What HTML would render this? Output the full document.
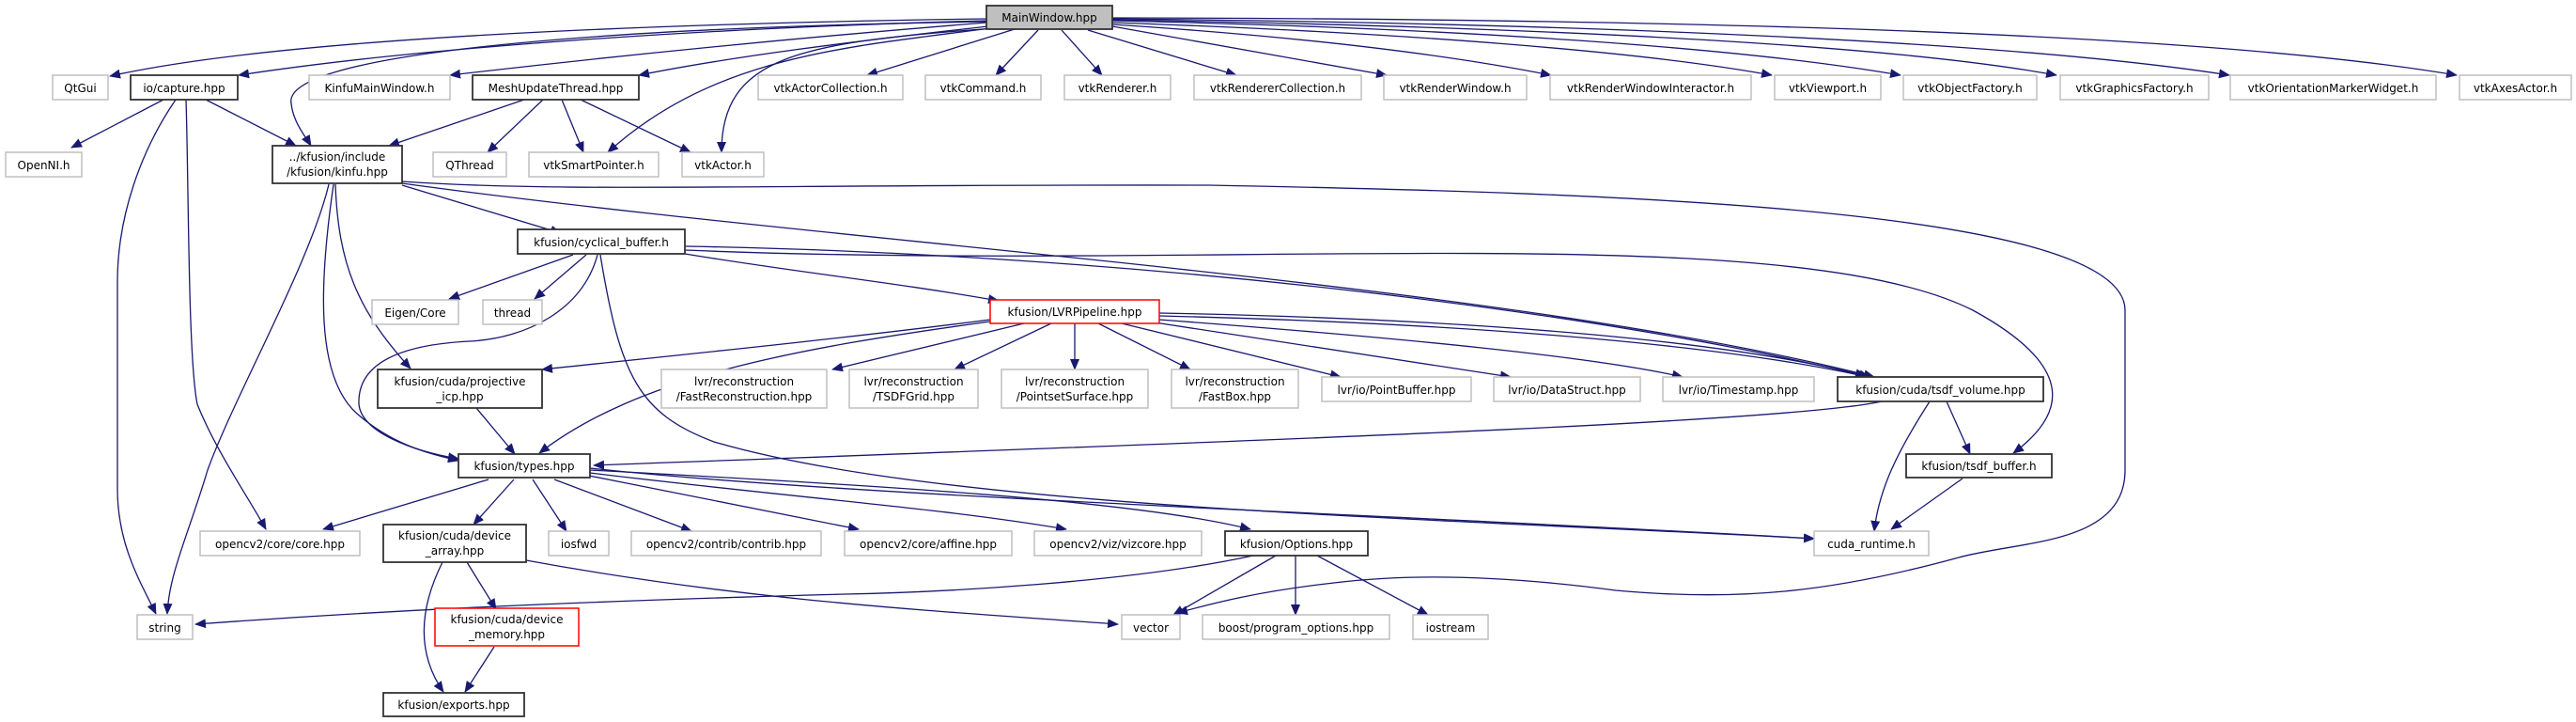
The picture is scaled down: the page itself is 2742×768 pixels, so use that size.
<!DOCTYPE html>
<html><head><meta charset="utf-8"><style>
html,body{margin:0;padding:0;background:#fff;}
svg{display:block;}
text{font-family:"DejaVu Sans","Liberation Sans",sans-serif;font-size:12px;fill:#000;text-anchor:middle;}
.g rect{fill:#fff;stroke:#bfbfbf;stroke-width:1.5;}
.b rect{fill:#fff;stroke:#333;stroke-width:1.8;}
.r rect{fill:#fff;stroke:#ff0000;stroke-width:1.5;}
.m rect{fill:#bfbfbf;stroke:#333;stroke-width:1.8;}
path.e{fill:none;stroke:#191970;stroke-width:1.3;marker-end:url(#a);}
</style></head><body>
<svg width="2742" height="768" viewBox="0 0 2742 768" xmlns="http://www.w3.org/2000/svg">
<defs><marker id="a" markerWidth="12" markerHeight="10" refX="11" refY="5" orient="auto" markerUnits="userSpaceOnUse"><path d="M0,0 L12,5 L0,10 z" fill="#191970"/></marker></defs>

<path class="e" d="M1050,20 C700,25 300,40 117,81"/>
<path class="e" d="M1050,22 C750,30 450,50 254,80"/>
<path class="e" d="M1050,23 C600,30 300,60 310,110 C312,130 325,145 331,155"/>
<path class="e" d="M1050,24 C850,40 650,60 479,80"/>
<path class="e" d="M1052,28 C900,45 780,60 680,80"/>
<path class="e" d="M1055,30 C900,50 760,60 647,162"/>
<path class="e" d="M1060,30 C850,45 768,60 768,162"/>
<path class="e" d="M1080,31 L923,80"/>
<path class="e" d="M1105,32 L1060,80"/>
<path class="e" d="M1130,32 L1173,80"/>
<path class="e" d="M1158,32 L1316,80"/>
<path class="e" d="M1184,28 L1476,80"/>
<path class="e" d="M1184,26 C1400,40 1550,60 1651,80"/>
<path class="e" d="M1184,24 C1500,35 1750,55 1886,80"/>
<path class="e" d="M1184,22 C1550,30 1850,50 2023,80"/>
<path class="e" d="M1184,21 C1600,28 2000,45 2189,80"/>
<path class="e" d="M1184,20 C1700,25 2150,45 2373,80"/>
<path class="e" d="M1184,19 C1800,20 2350,35 2615,80"/>
<path class="e" d="M174,106 L76,157"/>
<path class="e" d="M219,106 L315,155"/>
<path class="e" d="M187,106 C150,160 125,230 125,300 L125,520 C125,580 150,620 166,653"/>
<path class="e" d="M198,106 C201,200 200,380 210,430 C230,480 265,530 283,563"/>
<path class="e" d="M350,196 C330,280 250,420 221,500 C200,570 180,610 178,653"/>
<path class="e" d="M355,196 C340,300 335,400 380,440 C420,475 460,483 488,490"/>
<path class="e" d="M357,196 C360,280 380,330 437,392"/>
<path class="e" d="M428,197 L597,248"/>
<path class="e" d="M428,195 C900,260 1600,300 1995,401"/>
<path class="e" d="M428,193 C600,205 800,196 1287,197 C1700,205 2262,220 2262,330 L2262,500 C2262,580 2150,575 2085,593 C1950,630 1850,640 1720,628 C1600,612 1500,610 1420,620 C1330,630 1280,645 1253,652"/>
<path class="e" d="M558,106 L414,155"/>
<path class="e" d="M578,106 L519,162"/>
<path class="e" d="M598,106 L621,162"/>
<path class="e" d="M618,106 L735,162"/>
<path class="e" d="M610,271 L478,318"/>
<path class="e" d="M624,271 L569,318"/>
<path class="e" d="M636,271 C620,330 560,360 500,363 C440,366 380,380 382,430 C385,460 440,480 488,488"/>
<path class="e" d="M639,271 C660,400 680,440 760,470 C1000,540 1500,550 1931,573"/>
<path class="e" d="M729,270 C850,290 950,300 1063,320"/>
<path class="e" d="M729,262 C1200,270 1700,330 1990,401"/>
<path class="e" d="M729,266 C1300,290 1900,230 2100,330 C2210,390 2200,440 2143,482"/>
<path class="e" d="M1054,340 C900,360 700,380 577,393"/>
<path class="e" d="M1054,342 C850,370 680,400 574,482"/>
<path class="e" d="M1090,344 L886,393"/>
<path class="e" d="M1119,344 L1016,393"/>
<path class="e" d="M1144,344 L1144,393"/>
<path class="e" d="M1169,344 L1267,393"/>
<path class="e" d="M1194,344 L1427,401"/>
<path class="e" d="M1229,343 L1608,401"/>
<path class="e" d="M1234,340 C1500,360 1700,380 1791,401"/>
<path class="e" d="M1234,336 C1600,345 1850,370 1988,401"/>
<path class="e" d="M1234,333 C1600,340 1850,365 1986,400"/>
<path class="e" d="M507,434 L548,483"/>
<path class="e" d="M2003,427 C1900,450 1300,470 632,495"/>
<path class="e" d="M2072,427 L2097,483"/>
<path class="e" d="M2054,427 C2020,480 2000,520 1995,565"/>
<path class="e" d="M2089,509 L2013,563"/>
<path class="e" d="M520,510 L344,563"/>
<path class="e" d="M547,510 L504,558"/>
<path class="e" d="M567,510 L603,565"/>
<path class="e" d="M590,510 L736,565"/>
<path class="e" d="M627,506 L914,563"/>
<path class="e" d="M628,503 C850,530 1000,540 1135,563"/>
<path class="e" d="M628,500 C900,515 1200,530 1331,563"/>
<path class="e" d="M628,498 C900,528 1500,548 1931,573"/>
<path class="e" d="M497,598 L528,648"/>
<path class="e" d="M471,598 C450,640 440,690 472,736"/>
<path class="e" d="M560,596 C800,640 1000,650 1190,664"/>
<path class="e" d="M526,688 L495,736"/>
<path class="e" d="M1334,591 C1200,620 1000,630 900,632 C600,640 400,650 208,664"/>
<path class="e" d="M1358,591 L1249,654"/>
<path class="e" d="M1379,591 L1379,654"/>
<path class="e" d="M1402,591 L1520,654"/>

<g class="m"><rect x="1050" y="6" width="134" height="25"/><text x="1117" y="23">MainWindow.hpp</text></g>
<g class="g"><rect x="56" y="80" width="59" height="26"/><text x="85.5" y="98">QtGui</text></g>
<g class="b"><rect x="139" y="80" width="114" height="26"/><text x="196" y="98">io/capture.hpp</text></g>
<g class="g"><rect x="329" y="80" width="150" height="26"/><text x="404" y="98">KinfuMainWindow.h</text></g>
<g class="b"><rect x="503" y="80" width="177" height="26"/><text x="591.5" y="98">MeshUpdateThread.hpp</text></g>
<g class="g"><rect x="807" y="80" width="154" height="26"/><text x="884" y="98">vtkActorCollection.h</text></g>
<g class="g"><rect x="985" y="80" width="123" height="26"/><text x="1046.5" y="98">vtkCommand.h</text></g>
<g class="g"><rect x="1133" y="80" width="113" height="26"/><text x="1189.5" y="98">vtkRenderer.h</text></g>
<g class="g"><rect x="1271" y="80" width="178" height="26"/><text x="1360" y="98">vtkRendererCollection.h</text></g>
<g class="g"><rect x="1473" y="80" width="152" height="26"/><text x="1549" y="98">vtkRenderWindow.h</text></g>
<g class="g"><rect x="1650" y="80" width="214" height="26"/><text x="1757" y="98">vtkRenderWindowInteractor.h</text></g>
<g class="g"><rect x="1889" y="80" width="113" height="26"/><text x="1945.5" y="98">vtkViewport.h</text></g>
<g class="g"><rect x="2026" y="80" width="142" height="26"/><text x="2097" y="98">vtkObjectFactory.h</text></g>
<g class="g"><rect x="2193" y="80" width="158" height="26"/><text x="2272" y="98">vtkGraphicsFactory.h</text></g>
<g class="g"><rect x="2374" y="80" width="219" height="26"/><text x="2483.5" y="98">vtkOrientationMarkerWidget.h</text></g>
<g class="g"><rect x="2618" y="80" width="119" height="26"/><text x="2677.5" y="98">vtkAxesActor.h</text></g>

<g class="g"><rect x="6" y="162" width="81" height="26"/><text x="46.5" y="180">OpenNI.h</text></g>
<g class="b"><rect x="290" y="155" width="138" height="40"/><text x="359" y="171">../kfusion/include</text><text x="359" y="187">/kfusion/kinfu.hpp</text></g>
<g class="g"><rect x="461" y="162" width="78" height="26"/><text x="500" y="180">QThread</text></g>
<g class="g"><rect x="563" y="162" width="138" height="26"/><text x="632" y="180">vtkSmartPointer.h</text></g>
<g class="g"><rect x="726" y="162" width="87" height="26"/><text x="769.5" y="180">vtkActor.h</text></g>

<g class="b"><rect x="551" y="244" width="178" height="26"/><text x="640" y="262">kfusion/cyclical_buffer.h</text></g>
<g class="g"><rect x="396" y="319" width="92" height="26"/><text x="442" y="337">Eigen/Core</text></g>
<g class="g"><rect x="514" y="319" width="63" height="26"/><text x="545.5" y="337">thread</text></g>
<g class="r"><rect x="1054" y="319" width="180" height="25"/><text x="1144" y="336">kfusion/LVRPipeline.hpp</text></g>

<g class="b"><rect x="402" y="393" width="175" height="41"/><text x="489.5" y="410">kfusion/cuda/projective</text><text x="489.5" y="426">_icp.hpp</text></g>
<g class="g"><rect x="704" y="393" width="176" height="41"/><text x="792" y="410">lvr/reconstruction</text><text x="792" y="426">/FastReconstruction.hpp</text></g>
<g class="g"><rect x="904" y="393" width="137" height="41"/><text x="972.5" y="410">lvr/reconstruction</text><text x="972.5" y="426">/TSDFGrid.hpp</text></g>
<g class="g"><rect x="1066" y="393" width="156" height="41"/><text x="1144" y="410">lvr/reconstruction</text><text x="1144" y="426">/PointsetSurface.hpp</text></g>
<g class="g"><rect x="1247" y="393" width="135" height="41"/><text x="1314.5" y="410">lvr/reconstruction</text><text x="1314.5" y="426">/FastBox.hpp</text></g>
<g class="g"><rect x="1407" y="401" width="159" height="26"/><text x="1486.5" y="419">lvr/io/PointBuffer.hpp</text></g>
<g class="g"><rect x="1590" y="401" width="156" height="26"/><text x="1668" y="419">lvr/io/DataStruct.hpp</text></g>
<g class="g"><rect x="1770" y="401" width="161" height="26"/><text x="1850.5" y="419">lvr/io/Timestamp.hpp</text></g>
<g class="b"><rect x="1956" y="401" width="219" height="26"/><text x="2065.5" y="419">kfusion/cuda/tsdf_volume.hpp</text></g>

<g class="b"><rect x="488" y="483" width="140" height="25"/><text x="558" y="500">kfusion/types.hpp</text></g>
<g class="b"><rect x="2029" y="483" width="155" height="25"/><text x="2106.5" y="500">kfusion/tsdf_buffer.h</text></g>

<g class="g"><rect x="213" y="565" width="170" height="26"/><text x="298" y="583">opencv2/core/core.hpp</text></g>
<g class="b"><rect x="408" y="558" width="152" height="40"/><text x="484" y="574">kfusion/cuda/device</text><text x="484" y="590">_array.hpp</text></g>
<g class="g"><rect x="584" y="565" width="64" height="26"/><text x="616" y="583">iosfwd</text></g>
<g class="g"><rect x="672" y="565" width="202" height="26"/><text x="773" y="583">opencv2/contrib/contrib.hpp</text></g>
<g class="g"><rect x="899" y="565" width="178" height="26"/><text x="988" y="583">opencv2/core/affine.hpp</text></g>
<g class="g"><rect x="1101" y="565" width="178" height="26"/><text x="1190" y="583">opencv2/viz/vizcore.hpp</text></g>
<g class="b"><rect x="1304" y="565" width="152" height="26"/><text x="1380" y="583">kfusion/Options.hpp</text></g>
<g class="g"><rect x="1931" y="565" width="122" height="26"/><text x="1992" y="583">cuda_runtime.h</text></g>

<g class="g"><rect x="146" y="654" width="59" height="26"/><text x="175.5" y="672">string</text></g>
<g class="r"><rect x="463" y="647" width="153" height="40"/><text x="539.5" y="663">kfusion/cuda/device</text><text x="539.5" y="679">_memory.hpp</text></g>
<g class="g"><rect x="1194" y="654" width="62" height="26"/><text x="1225" y="672">vector</text></g>
<g class="g"><rect x="1280" y="654" width="199" height="26"/><text x="1379.5" y="672">boost/program_options.hpp</text></g>
<g class="g"><rect x="1504" y="654" width="80" height="26"/><text x="1544" y="672">iostream</text></g>

<g class="b"><rect x="408" y="737" width="150" height="25"/><text x="483" y="754">kfusion/exports.hpp</text></g>
</svg>
</body></html>
